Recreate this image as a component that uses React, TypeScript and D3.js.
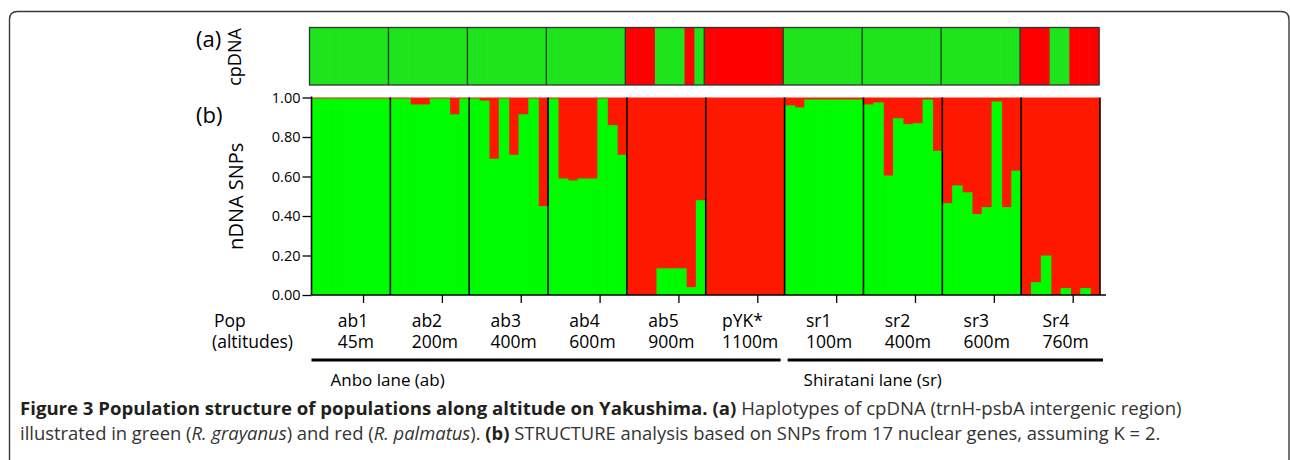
import React, { useEffect, useLayoutEffect, useRef } from "react";
import * as d3 from "d3";

const WIDTH = 1290;
const HEIGHT = 460;
const FONT = "'Open Sans', 'Noto Sans', sans-serif";

// populations along the two lanes
const popNames = ["ab1", "ab2", "ab3", "ab4", "ab5", "pYK*", "sr1", "sr2", "sr3", "Sr4"];
const popAltitudes = ["45m", "200m", "400m", "600m", "900m", "1100m", "100m", "400m", "600m", "760m"];
const laneNames = ["Anbo lane (ab)", "Shiratani lane (sr)"];
const laneFirstPop = [0, 6];
const laneLastPop = [5, 9];
const yTicks = [0, 0.2, 0.4, 0.6, 0.8, 1];

// cpDNA haplotype of each individual: 1 = green (R. grayanus), 0 = red (R. palmatus)
const cpAb1 = [1, 1, 1, 1, 1, 1, 1, 1];
const cpAb2 = [1, 1, 1, 1, 1, 1, 1, 1];
const cpAb3 = [1, 1, 1, 1, 1, 1, 1, 1];
const cpAb4 = [1, 1, 1, 1, 1, 1, 1, 1];
const cpAb5 = [0, 0, 0, 1, 1, 1, 0, 1];
const cpPYK = [0, 0, 0, 0, 0, 0, 0, 0];
const cpSr1 = [1, 1, 1, 1, 1, 1, 1, 1];
const cpSr2 = [1, 1, 1, 1, 1, 1, 1, 1];
const cpSr3 = [1, 1, 1, 1, 1, 1, 1, 1];
const cpSr4 = [0, 0, 0, 1, 1, 0, 0, 0];
const cpDNA = [cpAb1, cpAb2, cpAb3, cpAb4, cpAb5, cpPYK, cpSr1, cpSr2, cpSr3, cpSr4];

// STRUCTURE (K=2): share of the green cluster in each individual
const ab1 = [0.995, 0.995, 0.995, 0.995, 0.995, 0.995, 0.995, 0.995];
const ab2 = [0.995, 0.995, 0.965, 0.965, 0.995, 0.995, 0.915, 0.995];
const ab3 = [0.995, 0.985, 0.69, 0.995, 0.71, 0.915, 0.995, 0.45];
const ab4 = [0.995, 0.59, 0.58, 0.59, 0.59, 0.995, 0.86, 0.71];
const ab5 = [0, 0, 0, 0.135, 0.135, 0.135, 0.04, 0.48];
const pYK = [0, 0, 0, 0, 0, 0, 0, 0];
const sr1 = [0.96, 0.95, 0.99, 0.99, 0.99, 0.99, 0.99, 0.99];
const sr2 = [0.965, 0.975, 0.605, 0.895, 0.865, 0.87, 0.99, 0.73];
const sr3 = [0.465, 0.555, 0.52, 0.41, 0.445, 0.98, 0.445, 0.63];
const sr4 = [0, 0.065, 0.2, 0, 0.035, 0, 0.035, 0];
const nDNA = [ab1, ab2, ab3, ab4, ab5, pYK, sr1, sr2, sr3, sr4];

const PLOT = { left: 311.5, right: 1100, top: 97.5, bottom: 295 };
const CP = { left: 309.5, right: 1099, top: 27.5, bottom: 85 };

const GREEN = "#00fc00";
const RED = "#ff1800";
const CP_GREEN = "#1ee51b";
const CP_RED = "#ff0000";

export default function App() {
  const yAxisRef = useRef<SVGGElement>(null);
  const labelsRef = useRef<SVGGElement>(null);

  const individuals = nDNA.flat();
  const haplotypes = cpDNA.flat();
  const ids = d3.range(individuals.length);

  const popX = d3.scaleBand<string>().domain(popNames).range([PLOT.left, PLOT.right]);
  const indX = d3.scaleBand<number>().domain(ids).range([PLOT.left, PLOT.right]);
  const cpPopX = d3.scaleBand<string>().domain(popNames).range([CP.left, CP.right]);
  const cpX = d3.scaleBand<number>().domain(ids).range([CP.left, CP.right]);
  const y = d3.scaleLinear().domain([0, 1]).range([PLOT.bottom, PLOT.top]);

  useEffect(() => {
    const g = d3.select(yAxisRef.current);
    g.selectAll("*").remove();
    g.call(
      d3
        .axisLeft(y)
        .tickValues(yTicks)
        .tickFormat(d3.format(".2f"))
        .tickSize(9)
        .tickSizeOuter(0)
        .tickPadding(2)
    );
    g.select(".domain").remove();
    g.selectAll("line").attr("stroke", "#000").attr("stroke-width", 1.3);
    g.selectAll("text")
      .attr("font-family", FONT)
      .attr("font-size", 14.5)
      .attr("fill", "#000");
  }, []);

  // centre each two-line label block, lines stay left aligned
  useLayoutEffect(() => {
    d3.select(labelsRef.current)
      .selectAll<SVGTextElement, unknown>("text.pop")
      .each(function () {
        const w = this.getBBox().width;
        d3.select(this).attr("transform", `translate(${-w / 2},0)`);
      });
  }, []);

  const bw = popX.bandwidth();

  return (
    <svg
      width={WIDTH}
      height={HEIGHT}
      style={{ position: "absolute", left: 0, top: 0, background: "#fff" }}
      fontFamily={FONT}
    >
      {/* figure frame */}
      <path
        d={`M9.5,${HEIGHT + 10} V19.5 Q9.5,11.5 17.5,11.5 H1281 Q1289,11.5 1289,19.5 V${HEIGHT + 10}`}
        fill="none"
        stroke="#3a3a3a"
        strokeWidth={1.4}
      />

      {/* (a) cpDNA haplotypes */}
      <text x={196} y={46.5} fontSize={22} fill="#000">(a)</text>
      <text transform={`translate(241,57) rotate(-90)`} textAnchor="middle" fontSize={18} fill="#000">
        cpDNA
      </text>
      <g>
        {haplotypes.map((h, i) => (
          <rect
            key={i}
            x={cpX(i)}
            y={CP.top}
            width={cpX.bandwidth() + 0.6}
            height={CP.bottom - CP.top}
            fill={h ? CP_GREEN : CP_RED}
          />
        ))}
        {popNames.slice(1).map((p) => (
          <line
            key={p}
            x1={cpPopX(p)}
            x2={cpPopX(p)}
            y1={CP.top}
            y2={CP.bottom}
            stroke="#1c3a1c"
            strokeWidth={1.3}
          />
        ))}
        <rect
          x={CP.left}
          y={CP.top}
          width={CP.right - CP.left}
          height={CP.bottom - CP.top}
          fill="none"
          stroke="#333"
          strokeWidth={1.3}
        />
      </g>

      {/* (b) nDNA STRUCTURE */}
      <text x={196} y={123} fontSize={22} fill="#000">(b)</text>
      <text
        transform={`translate(243,${(PLOT.top + PLOT.bottom) / 2}) rotate(-90)`}
        textAnchor="middle"
        fontSize={20}
        fill="#000"
      >
        nDNA SNPs
      </text>
      <g>
        <rect
          x={PLOT.left}
          y={y(1)}
          width={PLOT.right - PLOT.left}
          height={y(0) - y(1)}
          fill={RED}
        />
        {individuals.map((v, i) =>
          v > 0 ? (
            <rect
              key={i}
              x={indX(i)}
              y={y(v)}
              width={indX.bandwidth() + 0.6}
              height={y(0) - y(v)}
              fill={GREEN}
            />
          ) : null
        )}
        {popNames.slice(1).map((p) => (
          <line key={p} x1={popX(p)} x2={popX(p)} y1={y(1)} y2={y(0)} stroke="#000" strokeWidth={1.6} />
        ))}
        <line x1={PLOT.right} x2={PLOT.right} y1={y(1)} y2={y(0)} stroke="#000" strokeWidth={1.6} />
      </g>

      {/* axes */}
      <g ref={yAxisRef} transform={`translate(${PLOT.left},0)`} />
      <line x1={PLOT.left} x2={PLOT.left} y1={y(1) - 1} y2={y(0)} stroke="#000" strokeWidth={1.6} />
      <line x1={PLOT.left} x2={PLOT.right + 6} y1={y(0)} y2={y(0)} stroke="#000" strokeWidth={1.6} />
      {popNames.map((p) => (
        <line
          key={p}
          x1={(popX(p) ?? 0) + bw * 0.66}
          x2={(popX(p) ?? 0) + bw * 0.66}
          y1={y(0)}
          y2={y(0) + 8}
          stroke="#000"
          strokeWidth={1.3}
        />
      ))}

      {/* population labels */}
      <text x={214} y={327} fontSize={17.5} fill="#000">
        <tspan x={214}>Pop</tspan>
        <tspan x={212} dy={20.5}>(altitudes)</tspan>
      </text>
      <g ref={labelsRef}>
        {popNames.map((p, i) => (
          <g key={p} transform={`translate(${(popX(p) ?? 0) + bw / 2 + 5},327)`}>
            <text className="pop" fontSize={17.5} fill="#000">
              <tspan x={0}>{p}</tspan>
              <tspan x={0} dy={20.5}>{popAltitudes[i]}</tspan>
            </text>
          </g>
        ))}
      </g>

      {/* lanes */}
      {laneNames.map((lane, i) => {
        const x0 = popX(popNames[laneFirstPop[i]]) ?? 0;
        const x1 = (popX(popNames[laneLastPop[i]]) ?? 0) + bw;
        return (
          <g key={lane}>
            <line
              x1={x0 + (i === 0 ? 0 : 3)}
              x2={x1 + (i === 0 ? -4 : 3)}
              y1={360}
              y2={360}
              stroke="#000"
              strokeWidth={3}
            />
            <text x={x0 + 19} y={386} fontSize={17} fill="#000">
              {lane}
            </text>
          </g>
        );
      })}

      {/* caption */}
      <text x={20} y={415} fontSize={18.6} fill="#333">
        <tspan fontWeight="bold" fill="#231f20">
          Figure 3 Population structure of populations along altitude on Yakushima. (a)
        </tspan>
        <tspan> Haplotypes of cpDNA (trnH-psbA intergenic region)</tspan>
      </text>
      <text x={20} y={440} fontSize={18.4} fill="#333">
        <tspan>illustrated in green (</tspan>
        <tspan fontStyle="italic">R. grayanus</tspan>
        <tspan>) and red (</tspan>
        <tspan fontStyle="italic">R. palmatus</tspan>
        <tspan>). </tspan>
        <tspan fontWeight="bold" fill="#231f20">(b)</tspan>
        <tspan> STRUCTURE analysis based on SNPs from 17 nuclear genes, assuming K = 2.</tspan>
      </text>
    </svg>
  );
}
